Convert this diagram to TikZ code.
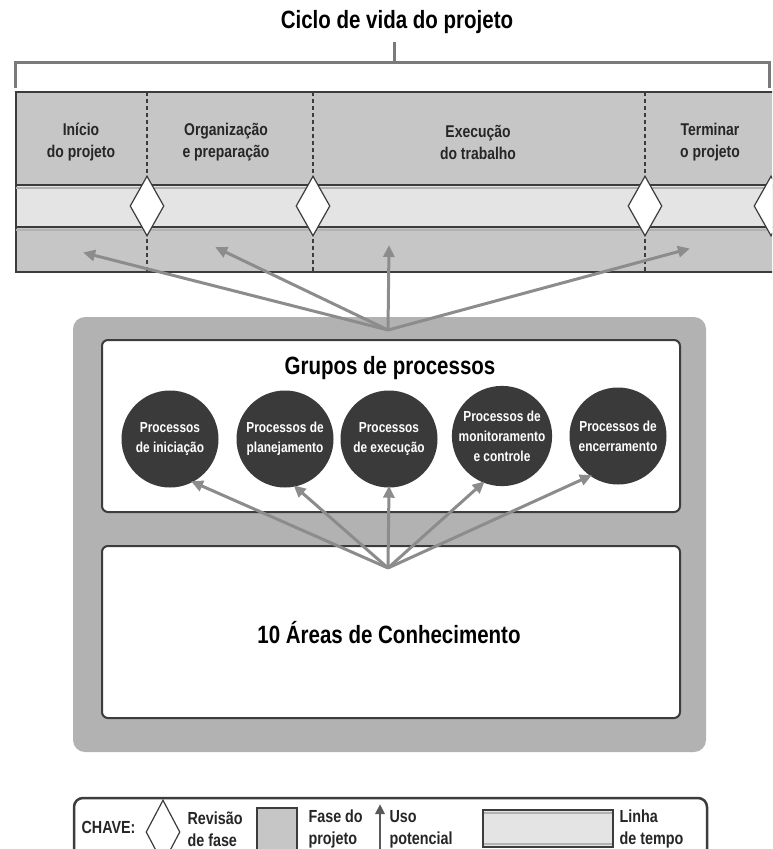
\documentclass[tikz,border=0pt]{standalone}
\usepackage{fontspec}
\setmainfont[FakeStretch=0.82]{Liberation Sans}
\usetikzlibrary{arrows.meta,shapes.geometric}

\definecolor{phasegray}{HTML}{C6C6C6}
\definecolor{timegray}{HTML}{E4E4E4}
\definecolor{framegray}{HTML}{B2B2B2}
\definecolor{balldark}{HTML}{3A3A3A}
\definecolor{arrowgray}{HTML}{8C8C8C}
\definecolor{bracketgray}{HTML}{7A7A7A}
\definecolor{edgedark}{HTML}{3C3C3C}

\tikzset{
  phaselabel/.style={font=\bfseries\fontsize{17}{22}\selectfont, align=center, text=black!85},
  gate/.style={diamond, draw=edgedark, fill=white, line width=1.2pt,
    minimum width=34pt, minimum height=60pt, inner sep=0pt},
  phasesep/.style={draw=edgedark, line width=1.1pt, dash pattern=on 4pt off 3pt},
  usearrow/.style={draw=arrowgray, line width=3pt,
    -{Triangle[length=12pt,width=11pt]}, shorten >=-2pt},
  procball/.style={circle, fill=balldark, text=white, minimum size=97pt,
    inner sep=0pt, align=center, font=\bfseries\fontsize{14.5}{20}\selectfont},
  panel/.style={draw=edgedark, fill=white, line width=2pt, rounded corners=6pt},
  heading/.style={font=\bfseries\fontsize{25}{29}\selectfont, text=black},
  keytext/.style={font=\bfseries\fontsize{17.5}{22}\selectfont, align=left, anchor=west, text=black!85},
}

\begin{document}
\begin{tikzpicture}[x=1pt, y=-1pt]
\path[use as bounding box] (0,0) rectangle (772,849);
\clip (0,0) rectangle (772,849);

% ---- life-cycle title and bracket ----
\node[heading] (lifecycle) at (397,22) {Ciclo de vida do projeto};
\draw[bracketgray, line width=3pt] (394,42) -- (394,62);
\draw[bracketgray, line width=3pt] (15,88) -- (15,62) -- (769,62) -- (769,88);

% ---- phase band ----
\fill[phasegray] (16,92) rectangle (790,272);
\fill[timegray] (16,185) rectangle (790,227);
\draw[edgedark, line width=1.5pt] (790,92) -- (16,92) -- (16,272) -- (790,272);
\draw[edgedark, line width=1.3pt] (16,185) -- (790,185);
\draw[black!30, line width=2pt] (16,188) -- (790,188);
\draw[edgedark, line width=1.3pt] (16,227) -- (790,227);
\draw[black!30, line width=2pt] (16,230) -- (790,230);

\foreach \x in {147,313,645} \draw[phasesep] (\x,92) -- (\x,272);

\node[phaselabel] (start) at (81,142) {Início\\do projeto};
\node[phaselabel] (prep)  at (226,142) {Organização\\e preparação};
\node[phaselabel] (exec)  at (478,142) {Execução\\do trabalho};
\node[phaselabel] (close) at (710,142) {Terminar\\o projeto};

\node[gate] (g1) at (147,206) {};
\node[gate] (g2) at (313,206) {};
\node[gate] (g3) at (645,206) {};
\node[gate] (g4) at (771,206) {};

% targets of the upward arrows inside the phase cells
\coordinate (tstart) at (85,253);
\coordinate (tprep)  at (217,248);
\coordinate (texec)  at (389,247);
\coordinate (tclose) at (688,249);

% ---- process framework ----
\fill[framegray, rounded corners=12pt] (73,317) rectangle (706,752);
\draw[panel] (102,340) rectangle (680,512);
\draw[panel] (102,546) rectangle (680,718);

\coordinate (hubtop) at (388,330);
\foreach \t in {tstart,tprep,texec,tclose}
  \draw[usearrow] (hubtop) -- (\t);

\node[heading] (groups) at (390,368) {Grupos de processos};

\node[procball] (p1) at (170,439) {Processos\\de iniciação};
\node[procball] (p2) at (285,439) {Processos de\\planejamento};
\node[procball] (p3) at (389,439) {Processos\\de execução};
\node[procball] (p4) at (502,436) {Processos de\\monitoramento\\e controle};
\node[procball] (p5) at (618,436) {Processos de\\encerramento};

\coordinate (hubbot) at (388,568);
\draw[usearrow] (hubbot) -- (p1.-62);
\draw[usearrow] (hubbot) -- (p2.-78);
\draw[usearrow] (hubbot) -- (p3.-90);
\draw[usearrow] (hubbot) -- (p4.-112);
\draw[usearrow] (hubbot) -- (p5.-125);

\node[heading] (areas) at (389,633) {10 Áreas de Conhecimento};

% ---- key ----
\draw[edgedark, fill=white, line width=2.5pt, rounded corners=9pt] (74,798) rectangle (707,880);
\node[keytext] (chave) at (78,827) {CHAVE:};
\node[gate, minimum height=64pt] (kgate) at (163,832) {};
\node[keytext] (kgatetxt) at (184,829) {Revisão\\de fase};
\draw[edgedark, fill=phasegray, line width=1.2pt] (257,808) rectangle (297,850);
\node[keytext] (kphasetxt) at (305,829) {Fase do\\projeto};
\coordinate (karrowfoot) at (380,852);
\coordinate (karrowtip)  at (380,806);
\draw[usearrow, draw=black!65, line width=2.5pt, -{Triangle[length=10pt,width=9pt]}] (karrowfoot) -- (karrowtip);
\node[keytext] (kusetxt) at (386,829) {Uso\\potencial};
\fill[timegray] (483,810) rectangle (613,847);
\draw[edgedark, line width=1.3pt] (483,810) rectangle (613,847);
\draw[black!30, line width=2pt] (484,813) -- (612,813);
\draw[black!30, line width=2pt] (484,844) -- (612,844);
\node[keytext] (ktimetxt) at (616,829) {Linha\\de tempo};
\end{tikzpicture}
\end{document}
